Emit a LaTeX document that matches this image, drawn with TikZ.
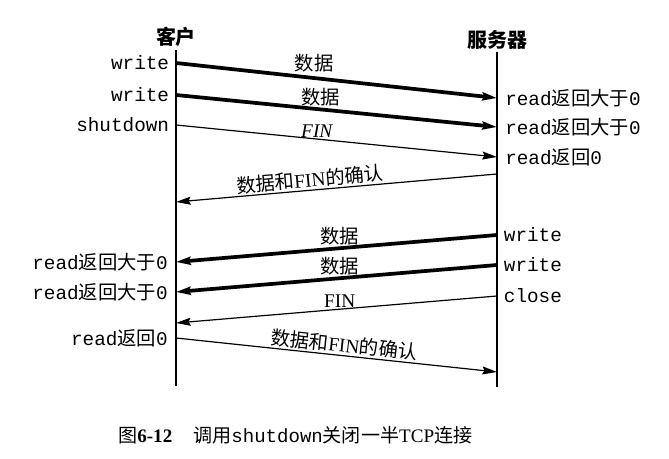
\documentclass[tikz,border=0pt]{standalone}
\usepackage{fontspec}
\setmainfont{Liberation Serif}
\setmonofont{Liberation Mono}
\newfontfamily\cjk{Noto Sans CJK SC}
\usetikzlibrary{arrows.meta,positioning}
\newcommand{\zh}[1]{{\cjk #1}}

\begin{document}
\begin{tikzpicture}[
    x=0.75pt, y=-0.75pt,
    font=\fontsize{14.5}{17}\selectfont,
    lifeline/.style={
        line width=1pt
    },
    call/.style={
        font=\fontsize{14.5}{17}\selectfont\ttfamily,
        inner sep=1pt
    },
    side/.style={
        font=\fontsize{15}{18}\selectfont\bfseries\cjk,
        inner sep=2pt
    },
    msg/.style={
        -{Stealth[length=11pt,width=6pt,inset=1.5pt]},
        line width=0.9pt
    },
    datamsg/.style={
        msg,
        line width=2.8pt
    },
    tag/.style={
        inner sep=1pt
    }
]
\useasboundingbox (0,0) rectangle (669,459);

\coordinate (ctop) at (176,50);
\coordinate (cbot) at (176,386);
\coordinate (stop) at (497,52);
\coordinate (sbot) at (497,387);

\draw[lifeline] (ctop) -- (cbot);
\draw[lifeline] (stop) -- (sbot);

\node[side, above=0pt of ctop] (client) {客户};
\node[side, above=0pt of stop] (server) {服务器};

\coordinate (c1) at (176,63);
\coordinate (s1) at (497,98);
\coordinate (c2) at (176,95);
\coordinate (s2) at (497,127);
\coordinate (c3) at (176,125);
\coordinate (s3) at (497,157);
\coordinate (s4) at (497,174);
\coordinate (c4) at (176,202);

\coordinate (s5) at (497,235);
\coordinate (c5) at (176,262);
\coordinate (s6) at (497,265);
\coordinate (c6) at (176,292);
\coordinate (s7) at (497,296);
\coordinate (c7) at (176,323);
\coordinate (c8) at (176,338);
\coordinate (s8) at (497,372);

\node[call, left=4pt of c1] (write1) {write};
\node[call, left=4pt of c2] (write2) {write};
\node[call, left=4pt of c3] (shut) {shutdown};
\node[call, right=5pt of s1] (read1) {read\zh{返回大于}0};
\node[call, right=5pt of s2] (read2) {read\zh{返回大于}0};
\node[call, right=5pt of s3] (read3) {read\zh{返回}0};

\node[call, right=4pt of s5] (write3) {write};
\node[call, right=4pt of s6] (write4) {write};
\node[call, right=4pt of s7] (close) {close};
\node[call, left=5pt of c5] (read4) {read\zh{返回大于}0};
\node[call, left=5pt of c6] (read5) {read\zh{返回大于}0};
\node[call, left=5pt of c8] (read6) {read\zh{返回}0};

\draw[datamsg] (c1) -- node[tag, above=2pt, pos=0.43] (data1) {\zh{数据}} (s1);
\draw[datamsg] (c2) -- node[tag, above, pos=0.45] (data2) {\zh{数据}} (s2);
\draw[msg] (c3) -- node[tag, above, pos=0.44] (fin1) {\textit{FIN}} (s3);
\draw[msg] (s4) -- node[tag, above, sloped, pos=0.58] (ack1) {\zh{数据和}FIN\zh{的确认}} (c4);

\draw[datamsg] (s5) -- node[tag, above, pos=0.49] (data3) {\zh{数据}} (c5);
\draw[datamsg] (s6) -- node[tag, above, pos=0.49] (data4) {\zh{数据}} (c6);
\draw[msg] (s7) -- node[tag, above, pos=0.49] (fin2) {FIN} (c7);
\draw[msg] (c8) -- node[tag, above, sloped, pos=0.52] (ack2) {\zh{数据和}FIN\zh{的确认}} (s8);

\node[anchor=west, inner sep=0pt, font=\fontsize{14.3}{17}\selectfont] (caption) at (118,435)
    {\zh{图}\textbf{6-12}\hspace{1.1em}\zh{调用}\texttt{shutdown}\zh{关闭一半}TCP\zh{连接}};

\end{tikzpicture}
\end{document}
